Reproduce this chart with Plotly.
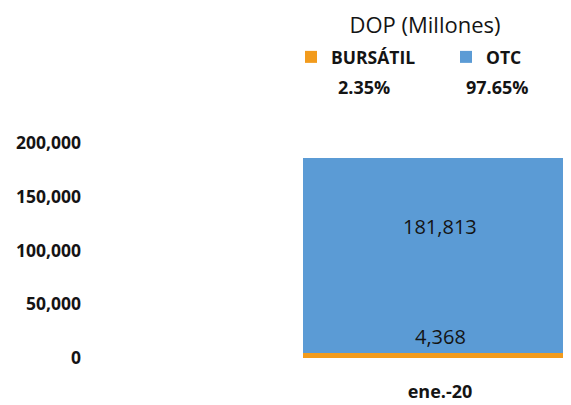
import plotly.graph_objects as go

# data
categoria = ["ene.-20"]
bursatil = [4368]
otc = [181813]
series = ["BURSÁTIL", "OTC"]
colores = ["#F29B1C", "#5B9BD5"]

W, H = 571, 405
total = bursatil[0] + otc[0]
pct_burs = bursatil[0] / total * 100
pct_otc = otc[0] / total * 100

# plot area in figure px (page adds an 8px body margin)
L, T, B = 80, 135, 350
PW, PH = W - L, B - T

fig = go.Figure()
fig.add_trace(go.Bar(
    x=categoria, y=bursatil, name=series[0],
    marker=dict(color=colores[0], line=dict(width=0)),
    width=1.0,
))
fig.add_trace(go.Bar(
    x=categoria, y=otc, name=series[1],
    marker=dict(color=colores[1], line=dict(width=0)),
    width=1.0,
))

lbl_font = dict(family="Open Sans", size=20, color="#141414")
# value labels (placed relative to the stacked segments)
fig.add_annotation(
    x=categoria[0], y=bursatil[0] + otc[0] / 2, text=f"{otc[0]:,}",
    showarrow=False, yshift=29, font=lbl_font,
)
fig.add_annotation(
    x=categoria[0], y=bursatil[0], text=f"{bursatil[0]:,}",
    showarrow=False, yanchor="bottom", yshift=1, font=lbl_font,
)

# percentages under legend entries
pct_font = dict(family="Open Sans", size=18, color="#141414", weight="bold")
pct_y = 1 + (T - 79) / PH
fig.add_annotation(xref="paper", yref="paper", x=(328 - L) / PW, y=pct_y,
                   xanchor="left", yanchor="middle", text=f"{pct_burs:.2f}%",
                   showarrow=False, font=pct_font)
fig.add_annotation(xref="paper", yref="paper", x=(456 - L) / PW, y=pct_y,
                   xanchor="left", yanchor="middle", text=f"{pct_otc:.2f}%",
                   showarrow=False, font=pct_font)

fig.update_layout(
    width=W, height=H,
    barmode="stack",
    plot_bgcolor="white", paper_bgcolor="white",
    margin=dict(l=L, r=0, t=T, b=H - B),
    title=dict(
        text="DOP (Millones)", xref="container", yref="container",
        x=417 / W, xanchor="center", y=1 - 17 / H, yanchor="middle",
        font=dict(family="Open Sans", size=22, color="#141414"),
    ),
    legend=dict(
        orientation="h", xref="container", yref="container",
        x=283 / W, xanchor="left", y=1 - 49 / H, yanchor="middle",
        entrywidth=110, entrywidthmode="pixels", itemwidth=30,
        font=dict(family="Open Sans", size=17.5, color="#141414", weight="bold"),
        traceorder="normal", bgcolor="rgba(0,0,0,0)",
    ),
    xaxis=dict(
        type="category", automargin=False,
        range=[-(432 - L) / 274, (W - 432) / 274],
        showline=False, showgrid=False, zeroline=False,
        ticks="", ticklabelstandoff=21,
        tickfont=dict(family="Open Sans", size=18, color="#141414", weight="bold"),
    ),
    yaxis=dict(
        automargin=False,
        range=[0, 200000], tickvals=[0, 50000, 100000, 150000, 200000],
        tickformat=",d", showgrid=False, zeroline=False, showline=False,
        ticks="", ticklabelstandoff=6,
        tickfont=dict(family="Open Sans", size=17.5, color="#141414", weight="bold"),
    ),
)

fig.write_html("out.html")
